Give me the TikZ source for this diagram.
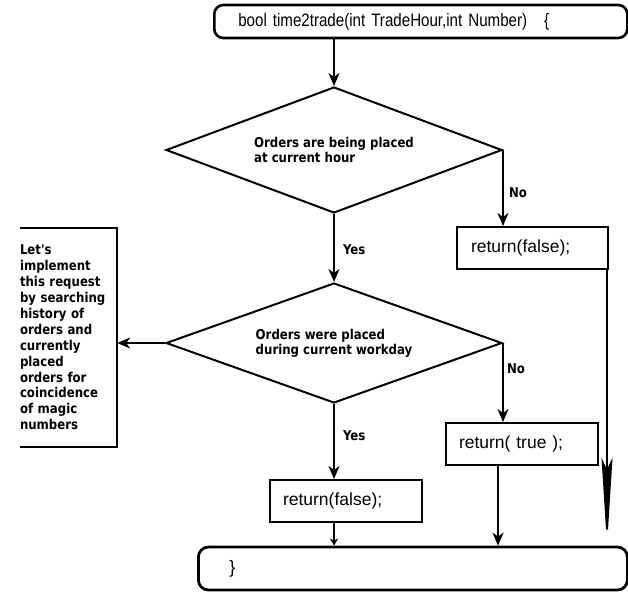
\documentclass[tikz,border=0pt]{standalone}
\usepackage{fontspec}
\setmainfont{Liberation Sans}
\newfontfamily\codenarrow{Liberation Sans}[FakeStretch=0.84]
\newfontfamily\lblfont{DejaVu Sans}[FakeStretch=0.87]
\usetikzlibrary{shapes.geometric,arrows.meta,calc}
\begin{document}
\begin{tikzpicture}[x=1pt,y=-1pt,
  roundbox/.style={draw, line width=2.6pt, rounded corners=9pt, anchor=west, align=left, inner ysep=0pt},
  procbox/.style={draw, line width=2pt, minimum height=42pt, anchor=west, align=left, inner ysep=0pt,
    font=\fontsize{17.5}{20}\selectfont},
  decision/.style={diamond, draw, line width=2pt, minimum width=336pt, align=left, inner sep=0pt,
    font=\lblfont\bfseries\fontsize{13.5}{15}\selectfont},
  lbl/.style={font=\lblfont\bfseries\fontsize{13.5}{15}\selectfont, inner sep=0pt},
  arr/.style={line width=2pt, -{Stealth[length=13pt,width=11pt,inset=4pt]}},
  arrsmall/.style={line width=2pt, -{Stealth[length=7pt,width=8pt,inset=2pt]}},
  arrlong/.style={line width=2pt, -{Stealth[length=88pt,width=11pt,inset=12pt]}}
]
\useasboundingbox[fill=white] (0,0) rectangle (628,595);

% nodes
\node[roundbox, minimum height=33pt, inner xsep=24pt, text width=365pt,
  font=\codenarrow\fontsize{18}{20}\selectfont] (top) at (213,21.5)
  {bool time2trade(int TradeHour,int Number)\hspace{17pt}\{};

\node[decision, minimum height=126pt, aspect=2.67] (d1) at (334,150)
  {Orders are being placed\\at current hour};

\node[procbox, inner xsep=14pt, text width=123pt] (rf1) at (456,248) {return(false);};

\node[decision, minimum height=120pt, aspect=2.8] (d2) at (334,343)
  {Orders were placed\\during current workday};

\node[procbox, inner xsep=13pt, text width=126pt] (rt) at (445,444) {return( true );};

\node[procbox, inner xsep=13pt, text width=126pt] (rf2) at (269,501) {return(false);};

\node[roundbox, line width=2.8pt, rounded corners=10pt, minimum height=43pt, inner xsep=31pt, text width=367pt,
  font=\fontsize{18}{20}\selectfont] (bot) at (197,568.5) {\}};

\node[lbl, minimum height=219pt, text width=97pt, align=left,
  font=\lblfont\bfseries\fontsize{13.5}{15.9}\selectfont] (note) at (68.5,337.5)
  {Let's\\implement\\this request\\by searching\\history of\\orders and\\currently\\placed\\orders for\\coincidence\\of magic\\numbers};
\draw[line width=2pt] (note.north west) -- (note.north east) -- (note.south east) -- (note.south west);

% connectors
\draw[arr] (d1.north |- top.south) -- (d1.north);
\draw[arr] (d1.south) -- (d2.north) node[lbl, pos=0.53, right=8pt] (yes1) {Yes};
\draw[arr] (d1.east) -- (d1.east |- rf1.north) node[lbl, pos=0.56, right=5pt] (no1) {No};
\draw[arr] (d2.west) -- (note.east |- d2.west);
\draw[arr] (d2.east) -- (d2.east |- rt.north) node[lbl, pos=0.33, right=3pt] (no2) {No};
\draw[arr] (d2.south) -- (d2.south |- rf2.north) node[lbl, pos=0.42, right=8pt] (yes2) {Yes};
\draw[arrsmall] (d2.south |- rf2.south) -- (d2.south |- bot.north);
\coordinate (rtout) at ([xshift=-24pt]rt.south);
\draw[arr] (rtout) -- (rtout |- bot.north);
\coordinate (rf1out) at ([xshift=-2pt]rf1.south east);
\draw[arrlong] (rf1out) -- (rf1out |- bot.north);
\end{tikzpicture}
\end{document}
